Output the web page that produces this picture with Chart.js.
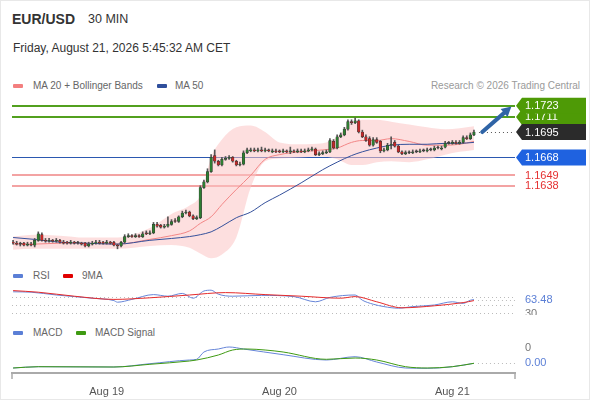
<!DOCTYPE html>
<html>
<head>
<meta charset="utf-8">
<title>EUR/USD 30 MIN</title>
<script src="https://cdn.jsdelivr.net/npm/chart.js@4.4.1/dist/chart.umd.min.js"></script>
<style>
  html, body { margin: 0; padding: 0; background: #fff; }
  body { width: 590px; height: 400px; position: relative; overflow: hidden;
         font-family: "Liberation Sans", Arial, sans-serif; color: #333; }
  .frame { position: absolute; left: 0; top: 0; width: 588px; height: 398px; border: 1px solid #e8e8e8; }
  .t { position: absolute; white-space: nowrap; line-height: 14px; }
  #pair { left: 12px; top: 12px; font-size: 14px; font-weight: bold; }
  #tf { left: 88px; top: 12px; font-size: 12.5px; }
  #date { left: 13px; top: 41px; font-size: 12px; }
  .lg { font-size: 10px; color: #666; }
  .sw { position: absolute; width: 10px; height: 4px; border-radius: 1px; }
  #credit { right: 10px; top: 79px; font-size: 10px; color: #9a9a9a; }
  canvas { position: absolute; left: 0; }
</style>
</head>
<body>
<div class="frame"></div>
<div class="t" id="pair">EUR/USD</div>
<div class="t" id="tf">30 MIN</div>
<div class="t" id="date">Friday, August 21, 2026 5:45:32 AM CET</div>

<div class="sw" style="left:13px;top:84px;background:#f37f7f"></div>
<div class="t lg" style="left:33px;top:79px">MA 20 + Bollinger Bands</div>
<div class="sw" style="left:157px;top:84px;background:#2f4f9c"></div>
<div class="t lg" style="left:175px;top:79px">MA 50</div>
<div class="t" id="credit">Research © 2026 Trading Central</div>

<div class="sw" style="left:13px;top:274px;background:#5b7fd6"></div>
<div class="t lg" style="left:33px;top:269px">RSI</div>
<div class="sw" style="left:63px;top:274px;background:#e00000"></div>
<div class="t lg" style="left:82px;top:269px">9MA</div>

<div class="sw" style="left:13px;top:331px;background:#5b7fd6"></div>
<div class="t lg" style="left:33px;top:326px">MACD</div>
<div class="sw" style="left:76px;top:331px;background:#3f9a12"></div>
<div class="t lg" style="left:95px;top:326px">MACD Signal</div>

<canvas id="price" width="590" height="180" style="top:90px"></canvas>
<canvas id="rsi" width="590" height="35" style="top:280px"></canvas>
<canvas id="macd" width="590" height="62" style="top:338px"></canvas>

<script>
// --- candles, one per 30 min bar ---
const opens = [
  1.1578,1.1577,1.1576,1.1577,1.1575,1.1576,1.1575,1.1580,1.1586,1.1580,
  1.1579,1.1580,1.1579,1.1580,1.1578,1.1578,1.1577,1.1578,1.1577,1.1577,
  1.1577,1.1574,1.1576,1.1577,1.1578,1.1578,1.1577,1.1578,1.1578,1.1575,
  1.1574,1.1578,1.1584,1.1585,1.1584,1.1585,1.1584,1.1588,1.1587,1.1588,
  1.1597,1.1596,1.1594,1.1595,1.1597,1.1601,1.1600,1.1605,1.1609,1.1610,
  1.1606,1.1603,1.1604,1.1636,1.1642,1.1653,1.1670,1.1664,1.1660,1.1666,
  1.1667,1.1668,1.1664,1.1660,1.1661,1.1673,1.1675,1.1676,1.1675,1.1676,
  1.1675,1.1676,1.1674,1.1675,1.1675,1.1674,1.1675,1.1674,1.1675,1.1674,
  1.1675,1.1674,1.1675,1.1676,1.1677,1.1671,1.1672,1.1673,1.1674,1.1685,
  1.1678,1.1690,1.1692,1.1698,1.1706,1.1705,1.1707,1.1695,1.1690,1.1688,
  1.1681,1.1687,1.1685,1.1675,1.1676,1.1681,1.1684,1.1680,1.1674,1.1672,
  1.1673,1.1673,1.1674,1.1674,1.1675,1.1675,1.1676,1.1676,1.1678,1.1677,
  1.1679,1.1683,1.1683,1.1684,1.1683,1.1684,1.1689,1.1688,1.1692
];
const highs = [
  1.1580,1.1579,1.1578,1.1578,1.1578,1.1578,1.1582,1.1589,1.1588,1.1582,
  1.1582,1.1581,1.1582,1.1581,1.1580,1.1579,1.1580,1.1579,1.1579,1.1578,
  1.1578,1.1578,1.1579,1.1580,1.1580,1.1579,1.1580,1.1579,1.1579,1.1576,
  1.1579,1.1586,1.1587,1.1586,1.1587,1.1586,1.1589,1.1590,1.1590,1.1599,
  1.1599,1.1597,1.1597,1.1605,1.1602,1.1603,1.1606,1.1611,1.1612,1.1611,
  1.1607,1.1606,1.1638,1.1644,1.1656,1.1671,1.1676,1.1665,1.1668,1.1669,
  1.1670,1.1669,1.1665,1.1663,1.1675,1.1678,1.1678,1.1678,1.1678,1.1679,
  1.1678,1.1677,1.1677,1.1677,1.1676,1.1677,1.1676,1.1679,1.1676,1.1677,
  1.1677,1.1677,1.1678,1.1679,1.1678,1.1674,1.1675,1.1676,1.1688,1.1687,
  1.1692,1.1694,1.1700,1.1708,1.1708,1.1710,1.1708,1.1697,1.1692,1.1690,
  1.1689,1.1689,1.1686,1.1678,1.1683,1.1690,1.1686,1.1681,1.1675,1.1675,
  1.1675,1.1676,1.1676,1.1677,1.1677,1.1678,1.1678,1.1680,1.1680,1.1680,
  1.1685,1.1685,1.1686,1.1686,1.1686,1.1691,1.1691,1.1694,1.1697
];
const lows = [
  1.1576,1.1575,1.1574,1.1574,1.1574,1.1574,1.1573,1.1579,1.1579,1.1578,
  1.1578,1.1578,1.1578,1.1577,1.1576,1.1576,1.1576,1.1576,1.1576,1.1575,
  1.1573,1.1573,1.1575,1.1576,1.1576,1.1576,1.1576,1.1576,1.1574,1.1571,
  1.1573,1.1577,1.1583,1.1583,1.1583,1.1583,1.1583,1.1586,1.1586,1.1587,
  1.1594,1.1593,1.1593,1.1594,1.1596,1.1599,1.1599,1.1604,1.1608,1.1605,
  1.1602,1.1602,1.1603,1.1635,1.1641,1.1652,1.1662,1.1659,1.1659,1.1665,
  1.1666,1.1663,1.1659,1.1659,1.1660,1.1672,1.1674,1.1674,1.1674,1.1674,
  1.1674,1.1674,1.1673,1.1673,1.1673,1.1673,1.1673,1.1672,1.1673,1.1673,
  1.1673,1.1673,1.1674,1.1675,1.1670,1.1670,1.1671,1.1672,1.1673,1.1677,
  1.1677,1.1689,1.1691,1.1697,1.1703,1.1704,1.1694,1.1689,1.1685,1.1680,
  1.1680,1.1683,1.1673,1.1674,1.1675,1.1677,1.1679,1.1673,1.1671,1.1671,
  1.1672,1.1672,1.1673,1.1673,1.1674,1.1674,1.1675,1.1675,1.1677,1.1676,
  1.1678,1.1682,1.1682,1.1682,1.1682,1.1683,1.1687,1.1687,1.1691
];
const closes = [
  1.1577,1.1576,1.1576,1.1575,1.1576,1.1575,1.1580,1.1587,1.1580,1.1579,
  1.1580,1.1579,1.1580,1.1578,1.1577,1.1577,1.1578,1.1577,1.1577,1.1576,
  1.1574,1.1576,1.1577,1.1578,1.1577,1.1577,1.1578,1.1577,1.1575,1.1574,
  1.1578,1.1584,1.1585,1.1584,1.1585,1.1584,1.1587,1.1587,1.1588,1.1597,
  1.1595,1.1594,1.1595,1.1597,1.1600,1.1600,1.1605,1.1609,1.1610,1.1606,
  1.1603,1.1604,1.1636,1.1642,1.1653,1.1668,1.1664,1.1660,1.1666,1.1667,
  1.1668,1.1664,1.1660,1.1661,1.1673,1.1676,1.1676,1.1675,1.1676,1.1675,
  1.1676,1.1675,1.1675,1.1674,1.1674,1.1675,1.1674,1.1675,1.1674,1.1675,
  1.1674,1.1675,1.1676,1.1677,1.1671,1.1672,1.1673,1.1674,1.1686,1.1678,
  1.1690,1.1692,1.1698,1.1706,1.1705,1.1707,1.1695,1.1690,1.1686,1.1681,
  1.1687,1.1684,1.1675,1.1676,1.1681,1.1682,1.1680,1.1674,1.1672,1.1673,
  1.1673,1.1674,1.1674,1.1675,1.1675,1.1676,1.1676,1.1678,1.1678,1.1678,
  1.1683,1.1683,1.1684,1.1683,1.1684,1.1689,1.1688,1.1692,1.1695
];

// --- moving averages / bollinger, read at these bar indices ---
const bandIdx = [0, 6, 13, 20, 29, 38, 44, 49, 52, 55, 58, 62, 66, 70, 74, 80, 86, 90, 94, 97, 101, 105, 110, 115, 120, 124, 128];
const bbUpper = [1.1584,1.1586,1.1585,1.1583,1.1583,1.1593,1.1608,1.1617,1.1628,1.1668,1.1687,1.1700,1.1702,1.1695,1.1684,1.1682,1.1683,1.1690,1.1705,1.1708,1.1708,1.1706,1.1703,1.1700,1.1698,1.1699,1.1701];
const bbLower = [1.1570,1.1571,1.1571,1.1571,1.1571,1.1574,1.1575,1.1572,1.1566,1.1561,1.1565,1.1583,1.1636,1.1664,1.1667,1.1668,1.1669,1.1666,1.1660,1.1660,1.1663,1.1664,1.1663,1.1666,1.1671,1.1674,1.1676];
const ma20 = [1.1576,1.1576,1.1577,1.1577,1.1576,1.1581,1.1585,1.1590,1.1598,1.1605,1.1618,1.1634,1.1649,1.1666,1.1671,1.1674,1.1676,1.1678,1.1684,1.1686,1.1686,1.1688,1.1685,1.1681,1.1681,1.1682,1.1685];
const ma50 = [1.1583,1.1581,1.1578,1.1577,1.1576,1.1580,1.1582,1.1584,1.1586,1.1589,1.1595,1.1604,1.1610,1.1620,1.1628,1.1641,1.1655,1.1663,1.1670,1.1674,1.1678,1.1681,1.1682,1.1682,1.1683,1.1683,1.1684];

// --- key levels ---
const resistances = [1.1723, 1.1711];
const pivot = 1.1668;
const supports = [1.1649, 1.1638];
const lastPrice = 1.1695;
const targetPrice = 1.1722;

// --- RSI panel ---
const rsiIdx = [0, 5, 12, 17, 22, 28, 29, 33, 39, 43, 47, 50, 53, 55, 57, 61, 69, 78, 84, 88, 95, 97, 100, 103, 107, 111, 117, 122, 125, 127, 128];
const rsiVals = [83, 82, 75, 71, 67, 61, 57, 64, 76, 72, 79, 67, 85, 87, 77, 72, 74, 71, 58, 69, 75, 62, 52, 46, 42, 46, 50, 58, 54, 62, 63.48];
const rsiMaIdx = [0, 7, 17, 28, 38, 49, 59, 70, 80, 91, 95, 101, 108, 117, 125, 128];
const rsiMaVals = [86, 82, 72, 64, 68, 75, 81, 76, 72, 67, 71, 58, 43, 48, 56, 61];
const rsiTicks = [30, 50, 70];

// --- MACD panel ---
const macdIdx = [0, 7, 28, 38, 49, 51, 53, 57, 60, 64, 75, 87, 95, 101, 109, 115, 122, 128];
const macdVals = [0.0000, 0.00013, 0.0001, 0.00043, 0.0008, 0.00087, 0.0016, 0.0019, 0.0021, 0.0019, 0.00133, 0.0008, 0.00113, 0.0006, 0.0000, -0.00003, 0.00013, 0.00047];
const signalIdx = [0, 7, 28, 38, 49, 51, 57, 61, 65, 70, 75, 87, 95, 101, 109, 115, 122, 128];
const signalVals = [0.0000, 0.00013, 0.0001, 0.00037, 0.0007, 0.0008, 0.0013, 0.0018, 0.0019, 0.0018, 0.0016, 0.00087, 0.001, 0.0008, 0.00013, 0.0000, 0.00013, 0.00047];
const macdTick = 0.002;

// --- x axis ---
const dayIdx = [26, 74, 122];
const dayLabels = ["Aug 19", "Aug 20", "Aug 21"];
const X_MIN = -0.3, X_MAX = 139.4;

const pts = (xs, ys) => xs.map((x, i) => ({ x, y: ys[i] }));
const lastIdx = closes.length - 1;

const baseOptions = (padding) => ({
  responsive: false,
  animation: false,
  events: [],
  layout: { padding },
  plugins: { legend: { display: false }, tooltip: { enabled: false } }
});

function dotted(ctx, x0, x1, y, color) {
  ctx.save();
  ctx.strokeStyle = color;
  ctx.lineWidth = 1;
  ctx.setLineDash([1, 3]);
  ctx.beginPath();
  ctx.moveTo(x0, y);
  ctx.lineTo(x1, y);
  ctx.stroke();
  ctx.restore();
}

function valueTag(ctx, x, y, text, color) {
  ctx.font = "11px 'Liberation Sans', Arial";
  const w = ctx.measureText(text).width;
  ctx.fillStyle = "#fff";
  ctx.fillRect(x - 2, y - 7, w + 4, 14);
  ctx.fillStyle = color;
  ctx.textBaseline = "middle";
  ctx.fillText(text, x, y);
}

// --- price chart ---
const priceMarks = {
  id: "priceMarks",
  beforeDatasetsDraw(chart) {
    const { ctx, chartArea: a, scales: { y } } = chart;
    const line = (v, color, w) => {
      const py = Math.round(y.getPixelForValue(v)) + (w % 2 ? 0.5 : 0);
      ctx.strokeStyle = color;
      ctx.lineWidth = w;
      ctx.beginPath();
      ctx.moveTo(a.left, py);
      ctx.lineTo(a.right, py);
      ctx.stroke();
    };
    ctx.save();
    resistances.forEach(v => line(v, "#52a01e", 2));
    line(pivot, "#2b58b0", 1);
    supports.forEach(v => line(v, "#f3a3a3", 2));
    ctx.restore();
  },
  afterDraw(chart) {
    const { ctx, chartArea: a, scales: { x, y } } = chart;
    ctx.save();
    // current price dotted line
    dotted(ctx, x.getPixelForValue(lastIdx) + 5, a.right, Math.round(y.getPixelForValue(lastPrice)) + 0.5, "#555");

    // forecast arrow
    const x0 = x.getPixelForValue(lastIdx + 2.3), y0 = y.getPixelForValue(lastPrice);
    const x1 = x.getPixelForValue(lastIdx + 10.4), y1 = y.getPixelForValue(targetPrice);
    const ang = Math.atan2(y1 - y0, x1 - x0);
    const head = 11;
    ctx.strokeStyle = "#2f64a6";
    ctx.fillStyle = "#2f64a6";
    ctx.lineWidth = 4;
    ctx.lineCap = "round";
    ctx.beginPath();
    ctx.moveTo(x0, y0);
    ctx.lineTo(x1 - Math.cos(ang) * head * 0.8, y1 - Math.sin(ang) * head * 0.8);
    ctx.stroke();
    ctx.beginPath();
    ctx.moveTo(x1, y1);
    ctx.lineTo(x1 - head * Math.cos(ang - 0.5), y1 - head * Math.sin(ang - 0.5));
    ctx.lineTo(x1 - head * Math.cos(ang + 0.5), y1 - head * Math.sin(ang + 0.5));
    ctx.closePath();
    ctx.fill();

    // right-hand price tags
    ctx.font = "11px 'Liberation Sans', Arial";
    ctx.textBaseline = "middle";
    const tag = (v, bg) => {
      const cy = y.getPixelForValue(v), h = 16;
      const tip = a.right + 1, body = a.right + 7, end = a.right + 71;
      ctx.fillStyle = bg;
      ctx.beginPath();
      ctx.moveTo(tip, cy);
      ctx.lineTo(body, cy - h / 2);
      ctx.lineTo(end, cy - h / 2);
      ctx.lineTo(end, cy + h / 2);
      ctx.lineTo(body, cy + h / 2);
      ctx.closePath();
      ctx.fill();
      ctx.fillStyle = "#fff";
      ctx.fillText(v.toFixed(4), a.right + 10, cy + 0.5);
    };
    tag(resistances[1], "#4e9a06");
    tag(resistances[0], "#4e9a06");
    tag(pivot, "#1f62e0");
    tag(lastPrice, "#2b2b2b");
    ctx.fillStyle = "#e53030";
    supports.forEach(v => ctx.fillText(v.toFixed(4), a.right + 10, y.getPixelForValue(v) + 0.5));
    ctx.restore();
  }
};

const bodyColors = closes.map((c, i) => c > opens[i] ? "#2e7d32" : (c < opens[i] ? "#c62828" : "#444"));

new Chart(document.getElementById("price"), {
  type: "bar",
  data: {
    datasets: [
      { type: "line", data: pts(bandIdx, bbUpper), borderColor: "rgba(0,0,0,0)", pointRadius: 0,
        cubicInterpolationMode: "monotone", fill: "+1", backgroundColor: "rgba(252,196,196,0.55)", order: 6 },
      { type: "line", data: pts(bandIdx, bbLower), borderColor: "rgba(0,0,0,0)", pointRadius: 0,
        cubicInterpolationMode: "monotone", fill: false, order: 6 },
      { type: "line", data: pts(bandIdx, ma20), borderColor: "#f28686", borderWidth: 1, pointRadius: 0,
        cubicInterpolationMode: "monotone", order: 5 },
      { type: "line", data: pts(bandIdx, ma50), borderColor: "#34509b", borderWidth: 1, pointRadius: 0,
        cubicInterpolationMode: "monotone", order: 4 },
      { type: "bar", data: closes.map((c, i) => ({ x: i, y: [lows[i], highs[i]] })),
        backgroundColor: "#555", barThickness: 1, grouped: false, order: 2 },
      { type: "bar", data: closes.map((c, i) => ({ x: i, y: [opens[i], c] })),
        backgroundColor: bodyColors, borderColor: "#333", borderWidth: 0.5, borderSkipped: false,
        barThickness: 2.6, minBarLength: 1, grouped: false, order: 1 }
    ]
  },
  options: Object.assign(baseOptions({ left: 12, right: 75, top: 10, bottom: 8 }), {
    scales: {
      x: { type: "linear", min: X_MIN, max: X_MAX, offset: false, display: false },
      y: { min: 1.1557, max: 1.1729, display: false }
    }
  }),
  plugins: [priceMarks]
});

// --- RSI chart ---
const rsiMarks = {
  id: "rsiMarks",
  beforeDatasetsDraw(chart) {
    const { ctx, chartArea: a, scales: { y } } = chart;
    rsiTicks.forEach(v => dotted(ctx, a.left, a.right, Math.round(y.getPixelForValue(v)) + 0.5, "#bbb"));
  },
  afterDraw(chart) {
    const { ctx, chartArea: a, scales: { x, y } } = chart;
    const last = rsiVals[rsiVals.length - 1];
    ctx.save();
    dotted(ctx, x.getPixelForValue(lastIdx) + 4, a.right, Math.round(y.getPixelForValue(last)) + 0.5, "#bbb");
    ctx.font = "11px 'Liberation Sans', Arial";
    ctx.textBaseline = "middle";
    ctx.fillStyle = "#777";
    [30, 70].forEach(v => ctx.fillText(String(v), a.right + 10, y.getPixelForValue(v) + 1));
    valueTag(ctx, a.right + 10, y.getPixelForValue(last), last.toFixed(2), "#5b7fd6");
    ctx.restore();
  }
};

new Chart(document.getElementById("rsi"), {
  type: "line",
  data: {
    datasets: [
      { data: pts(rsiMaIdx, rsiMaVals), borderColor: "#e52a2a", borderWidth: 1, pointRadius: 0, cubicInterpolationMode: "monotone" },
      { data: pts(rsiIdx, rsiVals), borderColor: "#6685d8", borderWidth: 1, pointRadius: 0, cubicInterpolationMode: "monotone" }
    ]
  },
  options: Object.assign(baseOptions({ left: 12, right: 75, top: 5, bottom: 0 }), {
    scales: {
      x: { type: "linear", min: X_MIN, max: X_MAX, display: false },
      y: { min: 25, max: 100, display: false }
    }
  }),
  plugins: [rsiMarks]
});

// --- MACD chart ---
const macdMarks = {
  id: "macdMarks",
  afterDraw(chart) {
    const { ctx, chartArea: a, scales: { x, y } } = chart;
    const last = macdVals[macdVals.length - 1];
    ctx.save();
    ctx.strokeStyle = "#aaa";
    ctx.lineWidth = 1.5;
    [a.left, a.right].forEach(px => {
      ctx.beginPath();
      ctx.moveTo(px, a.bottom);
      ctx.lineTo(px, a.bottom + 6);
      ctx.stroke();
    });
    dotted(ctx, x.getPixelForValue(lastIdx) + 4, a.right, Math.round(y.getPixelForValue(last)) + 0.5, "#bbb");
    ctx.font = "11px 'Liberation Sans', Arial";
    ctx.textBaseline = "middle";
    ctx.fillStyle = "#777";
    ctx.fillText(macdTick.toFixed(0), a.right + 10, y.getPixelForValue(macdTick));
    valueTag(ctx, a.right + 10, y.getPixelForValue(last), last.toFixed(2), "#5b7fd6");
    ctx.restore();
  }
};

new Chart(document.getElementById("macd"), {
  type: "line",
  data: {
    datasets: [
      { data: pts(signalIdx, signalVals), borderColor: "#3f9a12", borderWidth: 1, pointRadius: 0, cubicInterpolationMode: "monotone" },
      { data: pts(macdIdx, macdVals), borderColor: "#6685d8", borderWidth: 1, pointRadius: 0, cubicInterpolationMode: "monotone" }
    ]
  },
  options: Object.assign(baseOptions({ left: 12, right: 75, top: 5, bottom: 0 }), {
    scales: {
      x: {
        type: "linear", min: X_MIN, max: X_MAX,
        grid: { display: false },
        border: { display: true, color: "#aaa", width: 2 },
        afterBuildTicks: s => { s.ticks = dayIdx.map(v => ({ value: v })); },
        afterFit: s => { s.height = 27; },
        ticks: {
          padding: 4, color: "#555", maxRotation: 0, autoSkip: false,
          font: { family: "'Liberation Sans', Arial", size: 11 },
          callback: v => dayLabels[dayIdx.indexOf(v)]
        }
      },
      y: { min: -0.0005, max: 0.0025, display: false }
    }
  }),
  plugins: [macdMarks]
});
</script>
</body>
</html>
